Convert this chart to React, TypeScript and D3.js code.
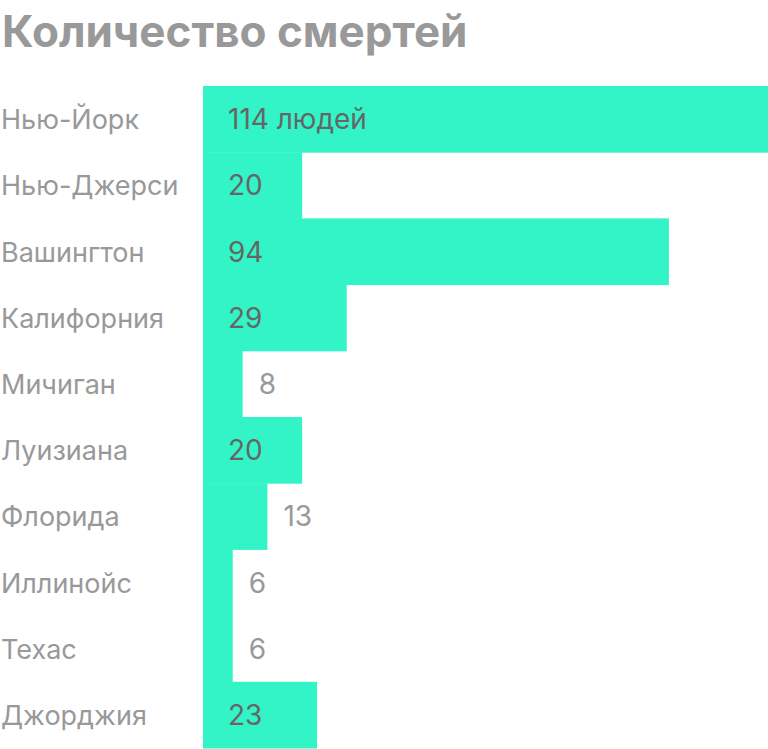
import { useMemo } from "react";
import * as d3 from "d3";

const width = 768;
const height = 749;
const margin = { top: 86, right: 0, bottom: 1, left: 203 };

const states = [
  "Нью-Йорк",
  "Нью-Джерси",
  "Вашингтон",
  "Калифорния",
  "Мичиган",
  "Луизиана",
  "Флорида",
  "Иллинойс",
  "Техас",
  "Джорджия",
];
const deaths = [114, 20, 94, 29, 8, 20, 13, 6, 6, 23];

const font = "Inter, 'Noto Sans', sans-serif";

const App = () => {
  const { xScale, yScale } = useMemo(() => {
    const xScale = d3
      .scaleLinear()
      .domain([0, d3.max(deaths) as number])
      .range([margin.left, width - margin.right]);
    const yScale = d3
      .scaleBand<string>()
      .domain(states)
      .range([margin.top, height - margin.bottom])
      .padding(0);
    return { xScale, yScale };
  }, []);

  const bw = yScale.bandwidth();

  return (
    <svg
      width={width}
      height={height}
      style={{ position: "absolute", left: 0, top: 0 }}
      fontFamily={font}
    >
      <text x={2} y={47} fontSize={44} fontWeight={700} fill="#999999">
        Количество смертей
      </text>
      {states.map((s, i) => {
        const y0 = yScale(s) as number;
        const x1 = xScale(deaths[i]);
        const inside = x1 - margin.left > 80;
        const label = i === 0 ? `${deaths[i]} людей` : `${deaths[i]}`;
        return (
          <g key={s}>
            <rect
              x={margin.left}
              y={y0}
              width={x1 - margin.left}
              height={bw + 0.5}
              fill="#33F4C6"
            />
            <text x={1} y={y0 + bw / 2 + 10} fontSize={27} fill="#999999">
              {s}
            </text>
            <text
              x={inside ? margin.left + 25 : x1 + 16}
              y={y0 + bw / 2 + 10}
              fontSize={28}
              fill={inside ? "#666666" : "#999999"}
            >
              {label}
            </text>
          </g>
        );
      })}
    </svg>
  );
};

export default App;
